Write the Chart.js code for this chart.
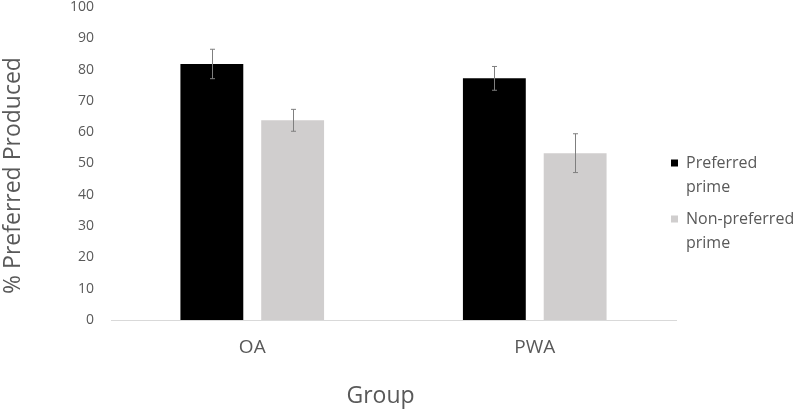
<!DOCTYPE html>
<html>
<head>
<meta charset="utf-8">
<script src="https://cdn.jsdelivr.net/npm/chart.js@4/dist/chart.umd.min.js"></script>
<style>
  html,body{margin:0;padding:0;background:#fff;}
  #wrap{width:800px;height:410px;position:relative;}
</style>
</head>
<body>
<div id="wrap"><canvas id="c" width="800" height="410"></canvas></div>
<script>
const categories = ['OA', 'PWA'];
const seriesNames = ['Preferred prime', 'Non-preferred prime'];
const preferred = [81.8, 77.2];
const preferredErr = [4.7, 3.8];
const nonPreferred = [63.8, 53.3];
const nonPreferredErr = [3.5, 6.2];
const yMin = 0, yMax = 100, yStep = 10;
const xTitle = 'Group';
const yTitle = '% Preferred Produced';

const FONT = "'Open Sans', 'Noto Sans', sans-serif";
const TEXT = '#595959';

const errorBars = {
  id: 'errorBars',
  afterDatasetsDraw(chart) {
    const ctx = chart.ctx;
    const y = chart.scales.y;
    chart.data.datasets.forEach((ds, di) => {
      const meta = chart.getDatasetMeta(di);
      meta.data.forEach((bar, i) => {
        const v = ds.data[i], e = ds.errors[i];
        const top = y.getPixelForValue(v + e);
        const bot = y.getPixelForValue(v - e);
        const x = Math.round(bar.x) + 0.5;
        ctx.save();
        ctx.strokeStyle = '#7f7f7f';
        ctx.lineWidth = 1;
        ctx.beginPath();
        ctx.moveTo(x, top); ctx.lineTo(x, bot);
        ctx.moveTo(x - 2.5, top); ctx.lineTo(x + 2.5, top);
        ctx.moveTo(x - 2.5, bot); ctx.lineTo(x + 2.5, bot);
        ctx.stroke();
        ctx.restore();
      });
    });
  }
};

const extras = {
  id: 'extras',
  afterDraw(chart) {
    const ctx = chart.ctx;
    const a = chart.chartArea;
    ctx.save();
    ctx.fillStyle = TEXT;
    ctx.textBaseline = 'middle';
    // axis titles
    ctx.font = "23px " + FONT;
    ctx.textAlign = 'center';
    ctx.fillText(xTitle, a.left + (a.right - a.left) / 2 - 13, 396);
    ctx.save();
    ctx.translate(13, a.top + (a.bottom - a.top) / 2 + 12);
    ctx.rotate(-Math.PI / 2);
    ctx.fillText(yTitle, 0, 0);
    ctx.restore();
    // legend
    ctx.font = "16px " + FONT;
    ctx.textAlign = 'left';
    const startY = [163, 219];
    chart.data.datasets.forEach((ds, i) => {
      const words = ds.label.split(' ');
      const lines = [words.slice(0, -1).join(' '), words[words.length - 1]];
      ctx.fillStyle = ds.backgroundColor;
      ctx.fillRect(671, startY[i] - 3.5, 7, 7);
      ctx.fillStyle = TEXT;
      lines.forEach((ln, k) => ctx.fillText(ln, 686, startY[i] + k * 24));
    });
    ctx.restore();
  }
};

new Chart(document.getElementById('c'), {
  type: 'bar',
  data: {
    labels: categories,
    datasets: [
      { label: seriesNames[0], data: preferred, errors: preferredErr, backgroundColor: '#000000',
        categoryPercentage: 0.572, barPercentage: 0.778 },
      { label: seriesNames[1], data: nonPreferred, errors: nonPreferredErr, backgroundColor: '#d0cece',
        categoryPercentage: 0.572, barPercentage: 0.778 }
    ]
  },
  options: {
    responsive: false,
    animation: false,
    devicePixelRatio: 1,
    layout: { padding: { left: 0, right: 124, top: 7, bottom: 0 } },
    plugins: { legend: { display: false }, tooltip: { enabled: false } },
    scales: {
      x: {
        grid: { display: false, drawTicks: false },
        border: { display: true, color: '#d9d9d9', width: 1 },
        ticks: { color: TEXT, font: { family: FONT, size: 19 }, padding: 16 },
        afterFit(s) { s.height = 90; s.paddingLeft = 0; s.paddingRight = 0; }
      },
      y: {
        min: yMin, max: yMax,
        grid: { display: false, drawTicks: false },
        border: { display: false },
        ticks: { stepSize: yStep, color: TEXT, font: { family: FONT, size: 14 }, padding: 17 },
        afterFit(s) { s.width = 111; s.paddingTop = 0; s.paddingBottom = 0; }
      }
    }
  },
  plugins: [errorBars, extras]
});
</script>
</body>
</html>
